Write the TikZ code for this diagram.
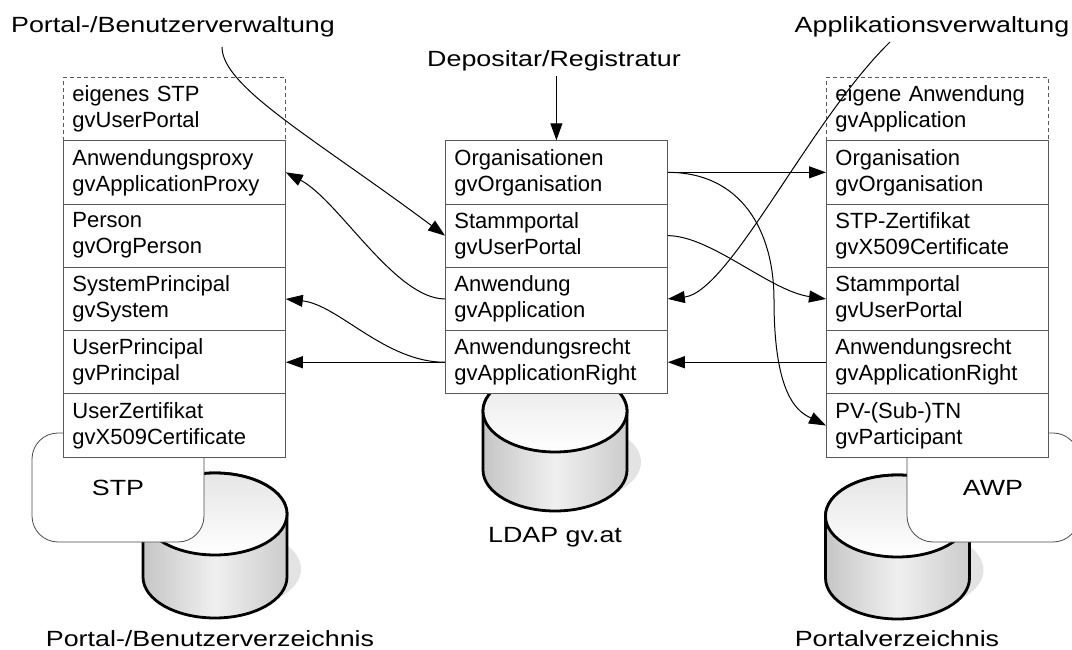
\documentclass[tikz,border=0pt]{standalone}
\usepackage{fontspec}
\setmainfont{Liberation Sans}
\newfontfamily\lblfont[FakeStretch=1.22]{Liberation Sans}
\usetikzlibrary{calc,arrows.meta}
\newcommand{\rowfont}{\fontsize{11}{13}\selectfont}
\newcommand{\lblsize}{\lblfont\fontsize{11}{12}\selectfont}
\newcommand{\dbcyl}[3]{%
  \fill[gray!22] (#1+14,#2-#3+8) ellipse (36pt and 20pt);
  \draw[line width=1.4pt, left color=gray!45, right color=gray!40, middle color=gray!12]
    (#1-72,#2) -- (#1-72,#2-#3)
    arc[start angle=180, end angle=360, x radius=36pt, y radius=20.5pt]
    -- (#1+72,#2)
    arc[start angle=0, end angle=180, x radius=36pt, y radius=20.5pt] -- cycle;
  \draw[line width=1.4pt, top color=gray!20, bottom color=white]
    (#1,#2) ellipse (36pt and 20.5pt);
}

\begin{document}
\begin{tikzpicture}[x=0.5pt,y=0.5pt,
  entry/.style={draw=black!65, fill=white, anchor=north west, text width=102pt,
    inner xsep=4.5pt, inner ysep=0pt, minimum height=31.65pt, align=left, font=\rowfont},
  optentry/.style={entry, dash pattern=on 2pt off 1.5pt},
  sysbox/.style={draw=black!70, fill=white, rounded corners=13pt,
    minimum width=86pt, minimum height=54.5pt, font=\lblsize},
  lbl/.style={font=\lblsize, inner sep=0pt, anchor=base},
  arr/.style={-{Triangle[length=8.5pt,width=6pt]}, line width=0.5pt}]
  \useasboundingbox (0,0) rectangle (1072,649);
  \clip (0,0) rectangle (1072,649);

  % databases
  \dbcyl{215}{135}{63}
  \dbcyl{555}{238}{59}
  \dbcyl{897.5}{133}{62}

  \node[sysbox] (stp) at (118,161.5) {STP};
  \node[sysbox] (awp) at (993,161.5) {AWP};

  % left stack
  \node[optentry] (L0) at (63,572) {eigenes STP\\gvUserPortal};
  \foreach \t [count=\i] in {{Anwendungsproxy\\gvApplicationProxy},
      {Person\\gvOrgPerson}, {SystemPrincipal\\gvSystem},
      {UserPrincipal\\gvPrincipal}, {UserZertifikat\\gvX509Certificate}}
    \node[entry] (L\i) at (63,{572-\i*63.3}) {\t};

  % center stack
  \foreach \t [count=\i] in {{Organisationen\\gvOrganisation},
      {Stammportal\\gvUserPortal}, {Anwendung\\gvApplication},
      {Anwendungsrecht\\gvApplicationRight}}
    \node[entry] (C\i) at (445,{572-\i*63.3}) {\t};

  % right stack
  \node[optentry] (R0) at (826,572) {eigene Anwendung\\gvApplication};
  \foreach \t [count=\i] in {{Organisation\\gvOrganisation},
      {STP-Zertifikat\\gvX509Certificate}, {Stammportal\\gvUserPortal},
      {Anwendungsrecht\\gvApplicationRight}, {PV-(Sub-)TN\\gvParticipant}}
    \node[entry] (R\i) at (826,{572-\i*63.3}) {\t};

  % labels
  \node[lbl] (ptladm) at (173,616) {Portal-/Benutzerverwaltung};
  \node[lbl] (deposit) at (554,582) {Depositar/Registratur};
  \node[lbl] (appadm) at (932,616) {Applikationsverwaltung};
  \node[lbl] (ldap) at (555,107) {LDAP gv.at};
  \node[lbl] (ptldir) at (210,3) {Portal-/Benutzerverzeichnis};
  \node[lbl] (portdir) at (897,3) {Portalverzeichnis};

  % connectors
  \draw[arr] ($(deposit.south -| C1.north)+(0,-4)$) -- (C1.north);
  \draw[arr] ($(ptladm.base)+(49,-14)$) .. controls +(0,-40) and +(-130,97) .. (C2.west);
  \draw[arr] ($(appadm.base)+(-42,-9)$) .. controls +(-80,-78) and +(62,7) .. (C3.east);
  \draw[arr] (C3.west) .. controls +(-50,0) and +(53,-28) .. (L1.east);
  \draw[arr] (C4.west) .. controls +(-60,0) and +(53,-6) .. (L3.east);
  \draw[arr] (C4.west) -- (L4.east);
  \draw[arr] (C1.east) -- (R1.west);
  \draw[arr] (C2.east) .. controls +(43,0) and +(-56,8) .. (R3.west);
  \draw[arr] (R4.west) -- (C4.east);
  \draw[arr] (C1.east) .. controls +(73,0) and +(0,70) .. (774,349)
    .. controls +(0,-100) and +(-26,13) .. (R5.west);
\end{tikzpicture}
\end{document}
